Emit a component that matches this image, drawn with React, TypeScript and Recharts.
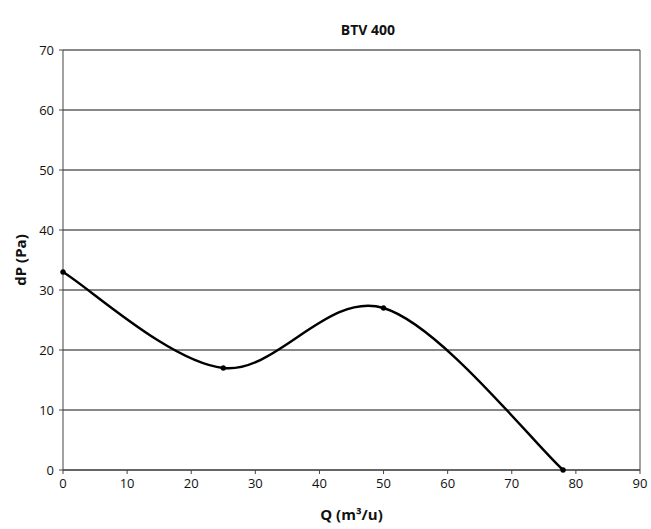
import { CartesianGrid, Line, LineChart, ReferenceLine, XAxis, YAxis } from "recharts";

const flowValues = [0, 25, 50, 78];
const pressureValues = [33, 17, 27, 0];
const xTicks = [0, 10, 20, 30, 40, 50, 60, 70, 80, 90];
const yTicks = [0, 10, 20, 30, 40, 50, 60, 70];

const data = flowValues.map((q, i) => ({ q, dp: pressureValues[i] }));

const FONT = "'Open Sans', 'DejaVu Sans', sans-serif";

// Excel-style smoothed line: Bezier segments with Catmull-Rom control points.
function excelSmooth(context: any) {
  let pts: [number, number][] = [];
  return {
    areaStart() {},
    areaEnd() {},
    lineStart() {
      pts = [];
    },
    point(x: number, y: number) {
      pts.push([+x, +y]);
    },
    lineEnd() {
      if (!pts.length) return;
      context.moveTo(pts[0][0], pts[0][1]);
      for (let i = 0; i < pts.length - 1; i++) {
        const p0 = pts[Math.max(i - 1, 0)];
        const p1 = pts[i];
        const p2 = pts[i + 1];
        const p3 = pts[Math.min(i + 2, pts.length - 1)];
        context.bezierCurveTo(
          p1[0] + (p2[0] - p0[0]) / 6,
          p1[1] + (p2[1] - p0[1]) / 6,
          p2[0] - (p3[0] - p1[0]) / 6,
          p2[1] - (p3[1] - p1[1]) / 6,
          p2[0],
          p2[1]
        );
      }
    },
  };
}

const tickStyle = { fontSize: 13, fill: "#111", fontFamily: FONT };

export default function App() {
  return (
    <div style={{ position: "absolute", left: 0, top: 0, width: 651, height: 529, background: "#fff" }}>
      <div
        style={{
          position: "absolute",
          left: 0,
          width: 736,
          top: 20,
          textAlign: "center",
          fontFamily: FONT,
          fontWeight: 700,
          fontSize: 14,
          color: "#111",
        }}
      >
        BTV 400
      </div>
      <LineChart width={651} height={529} data={data} margin={{ top: 50, right: 11, bottom: 29, left: 23 }}>
        <CartesianGrid vertical={false} stroke="#111" strokeOpacity={1} />
        <ReferenceLine x={90} stroke="#444" />
        <XAxis
          type="number"
          dataKey="q"
          domain={[0, 90]}
          ticks={xTicks}
          interval={0}
          height={30}
          tick={tickStyle}
          tickSize={4}
          tickMargin={5}
          stroke="#444"
          label={{
            value: "Q (m³/u)",
            position: "insideBottom",
            offset: -20,
            style: { fontSize: 15, fontWeight: 700, fill: "#111", fontFamily: FONT },
          }}
        />
        <YAxis
          type="number"
          domain={[0, 70]}
          ticks={yTicks}
          interval={0}
          width={40}
          tick={tickStyle}
          tickSize={4}
          tickMargin={5}
          stroke="#444"
          label={{
            value: "dP (Pa)",
            angle: -90,
            position: "insideLeft",
            offset: -2,
            style: { fontSize: 15, fontWeight: 700, fill: "#111", fontFamily: FONT, textAnchor: "middle" },
          }}
        />
        <Line
          dataKey="dp"
          type={excelSmooth as any}
          stroke="#000"
          strokeWidth={2.4}
          dot={{ r: 2.5, fill: "#000", stroke: "#000", strokeWidth: 0.5 }}
          activeDot={false}
          isAnimationActive={false}
        />
      </LineChart>
    </div>
  );
}
